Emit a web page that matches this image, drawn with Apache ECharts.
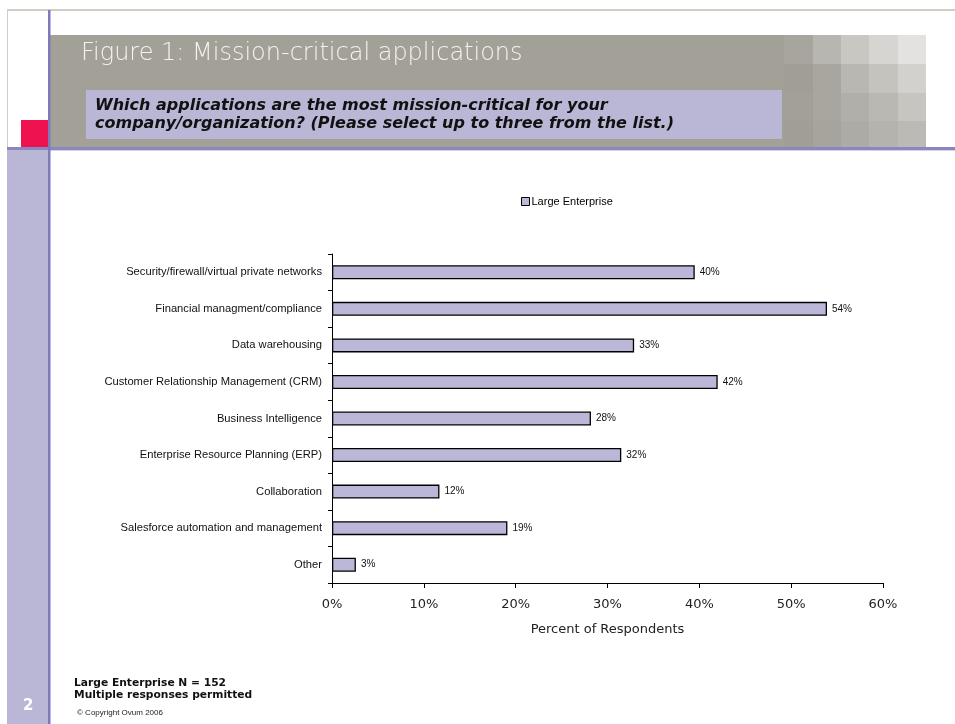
<!DOCTYPE html>
<html>
<head>
<meta charset="utf-8">
<script src="https://cdn.jsdelivr.net/npm/echarts@6/dist/echarts.min.js"></script>
<style>
html,body{margin:0;padding:0;background:#fff;}
#chart{width:955px;height:724px;}
</style>
</head>
<body>
<div id="chart"></div>
<script>
var categories = [
  'Security/firewall/virtual private networks',
  'Financial managment/compliance',
  'Data warehousing',
  'Customer Relationship Management (CRM)',
  'Business Intelligence',
  'Enterprise Resource Planning (ERP)',
  'Collaboration',
  'Salesforce automation and management',
  'Other'
];
var largeEnterprise = [39.5, 53.9, 32.9, 42.0, 28.2, 31.5, 11.7, 19.1, 2.6];
var seriesName = 'Large Enterprise';
var xTicks = [0, 10, 20, 30, 40, 50, 60];

var tileColors = [
  ['#a8a59e', '#b8b6b0', '#c8c7c2', '#d6d5d1', '#e3e2e0'],
  ['#a19e96', '#a8a69f', '#b9b7b1', '#c4c3be', '#d2d1cd'],
  ['#a3a098', '#a8a69f', '#b1afa9', '#b9b8b2', '#c6c5c0'],
  ['#a19e96', '#a6a49d', '#adaba5', '#b4b3ad', '#bbbab4']
];
var tileX = [784, 813, 841, 869, 898, 926];
var tileY = [35, 64, 93, 121, 148];

var graphics = [];
graphics.push({type:'rect', shape:{x:7, y:9, width:948, height:2}, style:{fill:'#d3cbc4'}, silent:true});
graphics.push({type:'rect', shape:{x:7, y:9, width:1, height:715}, style:{fill:'#d3cbc4'}, silent:true});
graphics.push({type:'rect', shape:{x:50, y:35, width:734, height:113}, style:{fill:'#a3a098'}, silent:true});
for (var r = 0; r < 4; r++) {
  for (var c = 0; c < 5; c++) {
    graphics.push({type:'rect', shape:{x:tileX[c], y:tileY[r], width:tileX[c+1]-tileX[c], height:tileY[r+1]-tileY[r]}, style:{fill:tileColors[r][c]}, silent:true});
  }
}
graphics.push({type:'rect', shape:{x:86, y:90, width:696, height:49}, style:{fill:'#bab6d6'}, silent:true});
graphics.push({type:'rect', shape:{x:21, y:120, width:27, height:28}, style:{fill:'#ee1350'}, silent:true});
graphics.push({type:'rect', shape:{x:7, y:149, width:41, height:575}, style:{fill:'#bab6d6'}, silent:true});
graphics.push({type:'rect', shape:{x:7, y:147, width:948, height:3}, style:{fill:'#8a86bf'}, silent:true});
graphics.push({type:'rect', shape:{x:50, y:150, width:905, height:1}, style:{fill:'#d4d1e8'}, silent:true});
graphics.push({type:'rect', shape:{x:48, y:10, width:2.5, height:714}, style:{fill:'#7d79bb'}, silent:true});
graphics.push({type:'text', left:81, top:42, style:{text:'Figure 1: Mission-critical applications', fill:'#f4f3f0', font:'300 24px "DejaVu Sans"'}, silent:true});
graphics.push({type:'text', left:95, top:97, style:{text:'Which applications are the most mission-critical for your\ncompany/organization? (Please select up to three from the list.)', fill:'#111', font:'italic bold 16px "DejaVu Sans"', lineHeight:18}, silent:true});
graphics.push({type:'text', left:74, top:677, style:{text:'Large Enterprise N = 152\nMultiple responses permitted', fill:'#111', font:'bold 10.7px "DejaVu Sans"', lineHeight:12}, silent:true});
graphics.push({type:'text', left:77, top:709, style:{text:'\u00a9 Copyright Ovum 2006', fill:'#222', font:'8px "Liberation Sans"'}, silent:true});
graphics.push({type:'text', left:23, top:699, style:{text:'2', fill:'#ffffff', font:'bold 15px "DejaVu Sans"'}, silent:true});

var chart = echarts.init(document.getElementById('chart'), null, {renderer:'canvas'});
chart.setOption({
  animation: false,
  backgroundColor: '#ffffff',
  graphic: graphics,
  legend: {
    data: [seriesName],
    left: 516, top: 191,
    itemWidth: 8, itemHeight: 8, itemGap: 5,
    icon: 'rect',
    textStyle: {fontFamily:'Liberation Sans', fontSize: 11, color:'#000', padding:[0,0,0,-3]},
    itemStyle: {borderColor:'#000', borderWidth:1}
  },
  grid: {left: 332, right: 72, top: 254, bottom: 141, containLabel: false},
  xAxis: {
    type: 'value', min: 0, max: 60, interval: 10,
    axisLine: {show: true, lineStyle: {color: '#000', width: 1}},
    axisTick: {show: true, length: 5, lineStyle: {color: '#000'}},
    splitLine: {show: false},
    axisLabel: {formatter: function(v){ return v + '%'; }, fontFamily: 'DejaVu Sans', fontSize: 13, color: '#222', margin: 15},
    name: 'Percent of Respondents', nameLocation: 'middle', nameGap: 40,
    nameTextStyle: {fontFamily: 'DejaVu Sans', fontSize: 13, color: '#222'}
  },
  yAxis: {
    type: 'category', data: categories, inverse: true,
    axisLine: {show: true, lineStyle: {color: '#000', width: 1}},
    axisTick: {show: true, length: 4, lineStyle: {color: '#000'}},
    axisLabel: {fontFamily: 'Liberation Sans', fontSize: 11.2, color: '#111', margin: 10}
  },
  series: [{
    name: seriesName,
    type: 'bar',
    data: largeEnterprise,
    barWidth: 14,
    itemStyle: {color: '#bbb7d9', borderColor: '#000', borderWidth: 1.3},
    label: {show: true, position: 'right', distance: 5, formatter: function(p){ return Math.round(p.value) + '%'; }, fontFamily: 'Liberation Sans', fontSize: 10, color: '#111'}
  }]
});
</script>
</body>
</html>
